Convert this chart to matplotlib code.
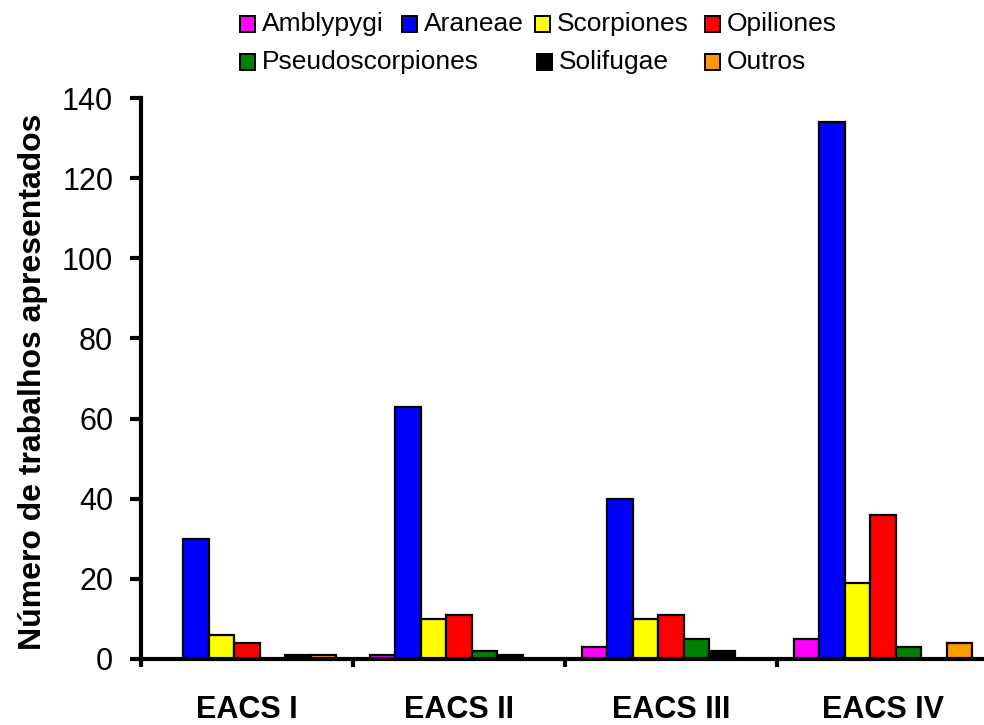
import matplotlib
matplotlib.use("Agg")
import matplotlib.pyplot as plt
from matplotlib.patches import Rectangle
import numpy as np

plt.rcParams['font.family'] = ['Liberation Sans', 'DejaVu Sans']

# Encontros (EACS) and number of presented works per order
encontros = ["EACS I", "EACS II", "EACS III", "EACS IV"]
ordens = ["Amblypygi", "Araneae", "Scorpiones", "Opiliones",
          "Pseudoscorpiones", "Solifugae", "Outros"]
amblypygi = [0, 1, 3, 5]
araneae = [30, 63, 40, 134]
scorpiones = [6, 10, 10, 19]
opiliones = [4, 11, 11, 36]
pseudoscorpiones = [0, 2, 5, 3]
solifugae = [1, 1, 2, 0]
outros = [1, 0, 0, 4]
yticks = [0, 20, 40, 60, 80, 100, 120, 140]

series = [amblypygi, araneae, scorpiones, opiliones,
          pseudoscorpiones, solifugae, outros]
cores = ["#FF00FF", "#0000FF", "#FFFF00", "#FF0000",
         "#008000", "#000000", "#FF9900"]

W, H = 984, 725
fig = plt.figure(figsize=(W / 100, H / 100), dpi=100)
ax = fig.add_axes([141 / W, 1 - 659 / H, (989 - 141) / W, (659 - 98) / H])

centros = np.arange(len(encontros)) + 0.5
largura = 0.12
for i, (vals, cor) in enumerate(zip(series, cores)):
    ax.bar(centros + (i - 3) * largura, vals, width=largura, color=cor,
           edgecolor="black", linewidth=1.6, label=ordens[i], zorder=2)

ax.set_xlim(0, len(encontros))
ax.set_ylim(0, 140)
ax.set_yticks(yticks)
ax.set_yticklabels([str(v) for v in yticks])

# category boundaries as major ticks, labels on minor ticks at the centres
ax.set_xticks(np.arange(len(encontros) + 1))
ax.set_xticklabels([])
ax.set_xticks(centros, minor=True)
ax.set_xticklabels(encontros, minor=True, fontsize=22, fontweight="bold")
ax.tick_params(axis="x", which="major", direction="out", length=6, width=3)
ax.tick_params(axis="x", which="minor", length=0, pad=26)
ax.tick_params(axis="y", direction="out", length=8, width=3, pad=12,
               labelsize=22)

for s in ["top", "right"]:
    ax.spines[s].set_visible(False)
for s in ["left", "bottom"]:
    ax.spines[s].set_linewidth(3)
    ax.spines[s].set_zorder(3)

ax.set_ylabel("Número de trabalhos apresentados", fontsize=23,
              fontweight="bold")
ax.yaxis.set_label_coords((48 - 141) / 848, (659 - 382) / 561)

# legend laid out in two rows above the plot
entradas = [
    (0, 240, 24), (1, 402, 24), (2, 535, 24), (3, 705, 24),
    (4, 240, 62), (5, 537, 62), (6, 705, 62),
]
lado = 15
for idx, px, py in entradas:
    fig.add_artist(Rectangle(((px) / W, 1 - (py + lado / 2) / H),
                             lado / W, lado / H, transform=fig.transFigure,
                             facecolor=cores[idx], edgecolor="black",
                             linewidth=1.4))
    fig.text((px + lado + 7) / W, 1 - (py + 7) / H, ordens[idx],
             fontsize=19, ha="left", va="baseline")

fig.savefig("out.png", dpi=100)
